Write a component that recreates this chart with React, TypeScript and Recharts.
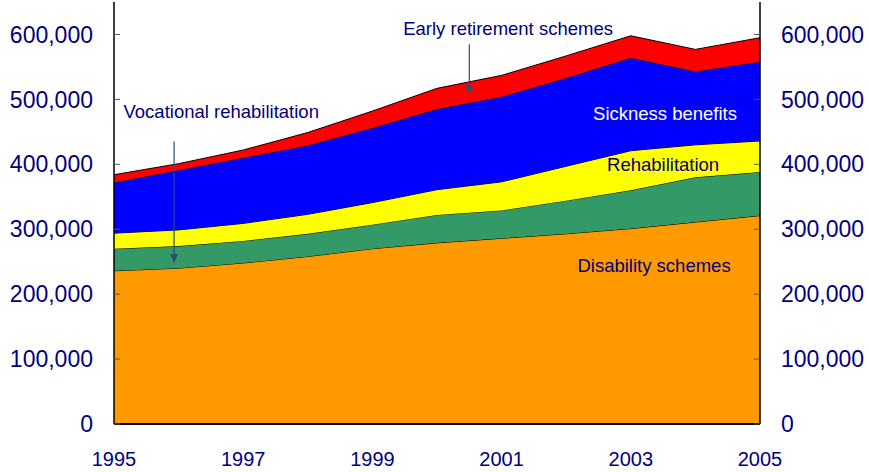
import React from 'react';
import {
  AreaChart,
  Area,
  XAxis,
  YAxis,
  ReferenceDot,
  ReferenceLine,
} from 'recharts';

// values in persons
const years: number[] = [1995, 1996, 1997, 1998, 1999, 2000, 2001, 2002, 2003, 2004, 2005];
const disability: number[] = [236000, 240000, 248000, 258000, 270000, 279000, 286000, 293000, 301000, 311000, 321000];
const vocational: number[] = [34000, 34000, 34000, 35000, 37000, 43000, 43000, 51000, 59000, 69000, 67000];
const rehabilitation: number[] = [24000, 25000, 27000, 30000, 34000, 39000, 44000, 53000, 61000, 50000, 48000];
const sickness: number[] = [78000, 92000, 101000, 106000, 115000, 124000, 131000, 136000, 143000, 113000, 122000];
const earlyRetirement: number[] = [12000, 10000, 12000, 20000, 26000, 32000, 33000, 34000, 34000, 34000, 37000];

const xTicks: number[] = [1995, 1997, 1999, 2001, 2003, 2005];
const yTicks: number[] = [0, 100000, 200000, 300000, 400000, 500000, 600000];

const NAVY = '#000080';
const ARROW = '#2b4d78';

const data = years.map((year, i) => ({
  year,
  disability: disability[i],
  vocational: vocational[i],
  rehabilitation: rehabilitation[i],
  sickness: sickness[i],
  early: earlyRetirement[i],
}));

const fmt = (v: number) => v.toLocaleString('en-US');

const arrowShape = (props: any) => {
  const { x1, y1, x2, y2 } = props;
  return (
    <g>
      <line x1={x1} y1={y1} x2={x2} y2={y2 - 6} stroke={ARROW} strokeWidth={1.2} />
      <polygon points={`${x2 - 4},${y2 - 9} ${x2 + 4},${y2 - 9} ${x2},${y2}`} fill={ARROW} />
    </g>
  );
};

export default function App() {
  return (
    <div style={{ position: 'fixed', left: 0, top: 0, fontFamily: '"Liberation Sans", Arial, sans-serif', background: '#fff' }}>
      <AreaChart
        width={869}
        height={472}
        data={data}
        margin={{ top: 2, right: 0, bottom: 0, left: 0 }}
      >
        <XAxis
          dataKey="year"
          type="number"
          domain={[1995, 2005]}
          ticks={xTicks}
          height={48}
          tickLine={false}
          tickSize={0}
          tickMargin={28}
          axisLine={{ stroke: '#000', strokeWidth: 2 }}
          tick={{ fill: NAVY, fontSize: 20 }}
        />
        <XAxis xAxisId="top" orientation="top" dataKey="year" type="number" domain={[1995, 2005]} height={0} tick={false} tickLine={false} axisLine={{ stroke: '#888', strokeWidth: 1 }} />
        <YAxis
          yAxisId="left"
          orientation="left"
          width={114}
          domain={[0, 650000]}
          ticks={yTicks}
          tickFormatter={fmt}
          tickSize={-6}
          tickMargin={27}
          tickLine={{ stroke: '#555' }}
          axisLine={{ stroke: '#000', strokeWidth: 1.5 }}
          tick={{ fill: NAVY, fontSize: 23 }}
          allowDataOverflow
        />
        <YAxis
          yAxisId="right"
          orientation="right"
          width={109}
          domain={[0, 650000]}
          ticks={yTicks}
          tickFormatter={fmt}
          tickSize={-6}
          tickMargin={27}
          tickLine={{ stroke: '#555' }}
          axisLine={{ stroke: '#000', strokeWidth: 1.5 }}
          tick={{ fill: NAVY, fontSize: 23 }}
          allowDataOverflow
        />
        <Area yAxisId="left" type="linear" dataKey="disability" stackId="a" fill="#FF9900" fillOpacity={1} stroke="#000" strokeWidth={1} isAnimationActive={false} />
        <Area yAxisId="left" type="linear" dataKey="vocational" stackId="a" fill="#339966" fillOpacity={1} stroke="#000" strokeWidth={1} isAnimationActive={false} />
        <Area yAxisId="left" type="linear" dataKey="rehabilitation" stackId="a" fill="#FFFF00" fillOpacity={1} stroke="#000" strokeWidth={1} isAnimationActive={false} />
        <Area yAxisId="left" type="linear" dataKey="sickness" stackId="a" fill="#0000FF" fillOpacity={1} stroke="#000" strokeWidth={1} isAnimationActive={false} />
        <Area yAxisId="left" type="linear" dataKey="early" stackId="a" fill="#FF0000" fillOpacity={1} stroke="#000" strokeWidth={1} isAnimationActive={false} />

        <ReferenceLine yAxisId="left" segment={[{ x: 2000.5, y: 585000 }, { x: 2000.5, y: 508000 }]} shape={arrowShape} />
        <ReferenceLine yAxisId="left" segment={[{ x: 1995.93, y: 435000 }, { x: 1995.93, y: 248000 }]} shape={arrowShape} />

        <ReferenceDot yAxisId="left" x={2001.1} y={610000} r={0} stroke="none" label={{ value: 'Early retirement schemes', position: 'center', fill: NAVY, fontSize: 18.5 }} />
        <ReferenceDot yAxisId="left" x={1996.66} y={481000} r={0} stroke="none" label={{ value: 'Vocational rehabilitation', position: 'center', fill: NAVY, fontSize: 18.5 }} />
        <ReferenceDot yAxisId="left" x={2003.53} y={478000} r={0} stroke="none" label={{ value: 'Sickness benefits', position: 'center', fill: '#ffffff', fontSize: 18.5 }} />
        <ReferenceDot yAxisId="left" x={2003.5} y={400000} r={0} stroke="none" label={{ value: 'Rehabilitation', position: 'center', fill: NAVY, fontSize: 18.5 }} />
        <ReferenceDot yAxisId="left" x={2003.36} y={245000} r={0} stroke="none" label={{ value: 'Disability schemes', position: 'center', fill: NAVY, fontSize: 18.5 }} />
      </AreaChart>
    </div>
  );
}
